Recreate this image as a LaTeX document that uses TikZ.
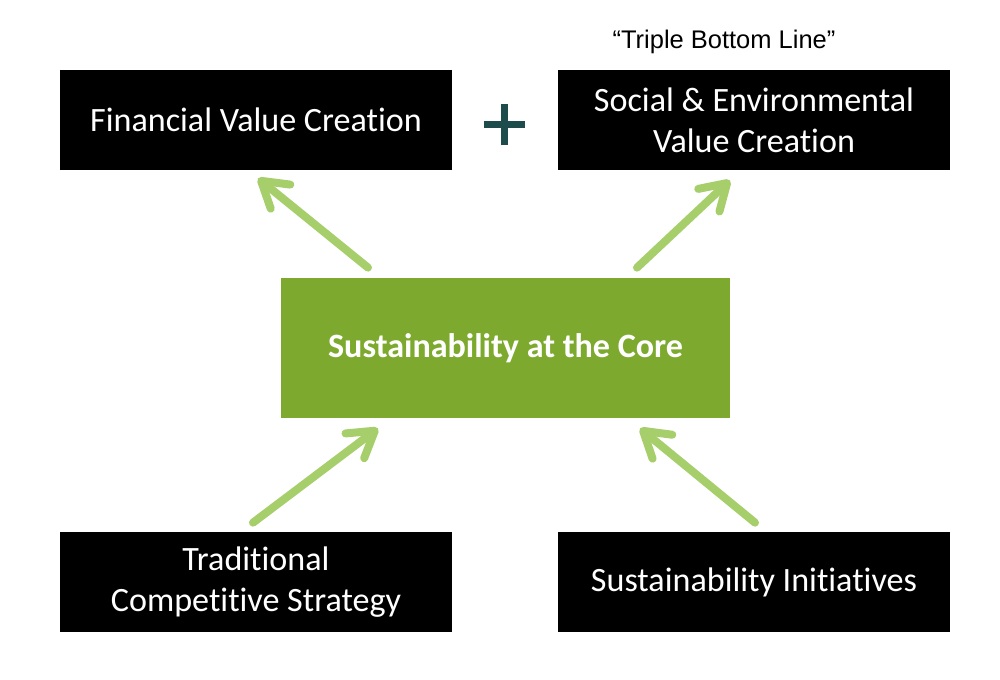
\documentclass[tikz,border=0pt]{standalone}
\usepackage{fontspec}
\setmainfont{Carlito}[Ligatures={NoCommon}]
\newfontfamily\arialfont{Liberation Sans}
\usetikzlibrary{arrows.meta, positioning, calc}
\definecolor{coregreen}{HTML}{7DAA2E}
\definecolor{arrowgreen}{HTML}{A6CE6B}
\definecolor{plusteal}{HTML}{1E4B4B}

\begin{document}
\begin{tikzpicture}[
    blk/.style={fill=black, text=white, minimum width=7.84cm, minimum height=2cm, inner sep=2pt, align=center, font=\fontsize{19.4}{23.4}\selectfont},
    hub/.style={fill=coregreen, text=white, minimum width=8.98cm, minimum height=2.8cm, align=center, font=\fontsize{19.4}{23.4}\selectfont\bfseries},
    arr/.style={-{Straight Barb[length=0.5cm, width=0.62cm, round]}, line width=0.16cm, line cap=round, arrowgreen},
    note/.style={font=\arialfont\fontsize{14.5}{17}\selectfont},
]
\useasboundingbox (0,0) rectangle (20,13.6);

\node[blk] (fin) at (5.12, 11.2) {Financial Value Creation};
\node[blk] (soc) at (15.08, 11.2) {Social \& Environmental\\Value Creation};
\node[hub] (core) at (10.11, 6.64) {Sustainability at the Core};
\node[blk] (trad) at (5.12, 1.96) {Traditional\\Competitive Strategy};
\node[blk] (init) at (15.08, 1.96) {Sustainability Initiatives};

\node[note] (tbl) at (14.48, 12.76) {“Triple Bottom Line”};

% plus sign between the two outcomes
\coordinate (plus) at (10.08, 11.1);
\draw[plusteal, line width=0.14cm] ($(plus)+(-0.41,0)$) -- ($(plus)+(0.41,0)$);
\draw[plusteal, line width=0.14cm] ($(plus)+(0,-0.41)$) -- ($(plus)+(0,0.41)$);

\draw[arr] ([xshift=-2.75cm, yshift=0.2cm]core.north) -- ([xshift=0.04cm, yshift=-0.16cm]fin.south);
\draw[arr] ([xshift=2.63cm, yshift=0.2cm]core.north) -- ([xshift=-0.48cm, yshift=-0.2cm]soc.south);
\draw[arr] ([xshift=-0.06cm, yshift=0.18cm]trad.north) -- ([xshift=-2.55cm, yshift=-0.2cm]core.south);
\draw[arr] ([xshift=0.02cm, yshift=0.18cm]init.north) -- ([xshift=2.69cm, yshift=-0.2cm]core.south);

\end{tikzpicture}
\end{document}
